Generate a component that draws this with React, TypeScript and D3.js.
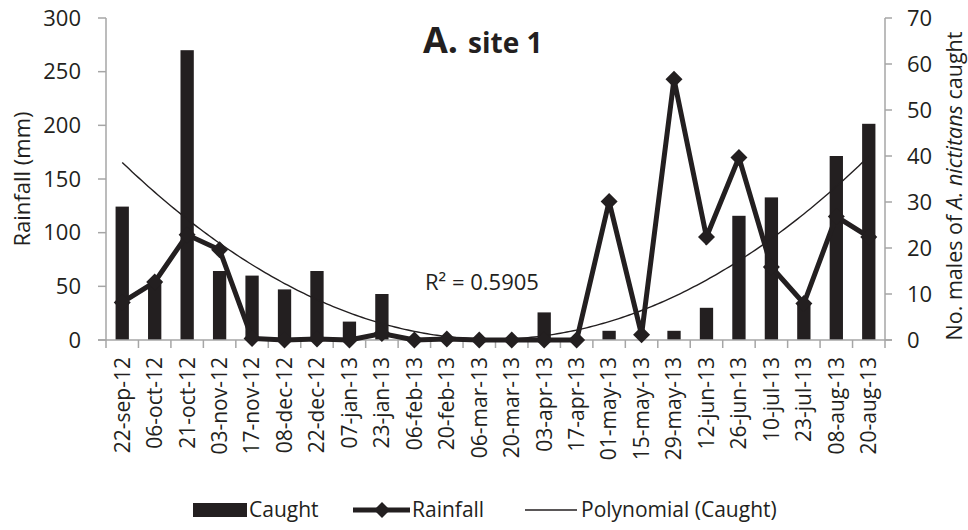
import React from "react";
import * as d3 from "d3";

const dates = [
  "22-sep-12", "06-oct-12", "21-oct-12", "03-nov-12", "17-nov-12", "08-dec-12",
  "22-dec-12", "07-jan-13", "23-jan-13", "06-feb-13", "20-feb-13", "06-mar-13",
  "20-mar-13", "03-apr-13", "17-apr-13", "01-may-13", "15-may-13", "29-may-13",
  "12-jun-13", "26-jun-13", "10-jul-13", "23-jul-13", "08-aug-13", "20-aug-13",
];
const caught = [29, 13, 63, 15, 14, 11, 15, 4, 10, 0, 0, 0, 0, 6, 0, 2, 0, 2, 7, 27, 31, 8, 40, 47];
const rainfall = [35, 54, 98, 84, 1.5, 0, 1, 0, 6, 0, 1, 0, 0, 0, 0, 129, 5, 243, 96, 170, 68, 34, 115, 96];
const leftTicks = [0, 50, 100, 150, 200, 250, 300];
const rightTicks = [0, 10, 20, 30, 40, 50, 60, 70];

const INK = "#231f20";
const AXIS = "#a6a6a6";
const FONT = "'Open Sans', Lato, sans-serif";

// least squares quadratic fit (Excel polynomial trendline order 2)
function quadFit(ys: number[]) {
  let s = [0, 0, 0, 0, 0];
  let t = [0, 0, 0];
  ys.forEach((y, i) => {
    const x = i + 1;
    for (let k = 0; k < 5; k++) s[k] += Math.pow(x, k);
    for (let k = 0; k < 3; k++) t[k] += y * Math.pow(x, k);
  });
  const A = [
    [s[0], s[1], s[2], t[0]],
    [s[1], s[2], s[3], t[1]],
    [s[2], s[3], s[4], t[2]],
  ];
  for (let i = 0; i < 3; i++) {
    let p = i;
    for (let r = i + 1; r < 3; r++) if (Math.abs(A[r][i]) > Math.abs(A[p][i])) p = r;
    [A[i], A[p]] = [A[p], A[i]];
    for (let r = 0; r < 3; r++) {
      if (r === i) continue;
      const f = A[r][i] / A[i][i];
      for (let c = i; c < 4; c++) A[r][c] -= f * A[i][c];
    }
  }
  const c0 = A[0][3] / A[0][0], c1 = A[1][3] / A[1][1], c2 = A[2][3] / A[2][2];
  return (x: number) => c0 + c1 * x + c2 * x * x;
}

export default function App() {
  const W = 968, H = 530;
  const left = 106, right = 885, top = 18, bottom = 340;
  const x = d3.scaleBand<string>().domain(dates).range([left, right]).padding(0);
  const step = x.step();
  const cx = (d: string) => (x(d) as number) + step / 2;
  const yL = d3.scaleLinear().domain([0, 300]).range([bottom, top]);
  const yR = d3.scaleLinear().domain([0, 70]).range([bottom, top]);
  const barW = step * 0.41;

  const fit = quadFit(caught);
  const trendPts: [number, number][] = d3.range(1, 24.001, 0.1).map((v) => {
    const px = left + step * (v - 0.5);
    return [px, yR(fit(v))];
  });
  const trendPath = d3.line().curve(d3.curveLinear)(trendPts) as string;
  const rainPath = d3
    .line<number>()
    .x((_, i) => cx(dates[i]))
    .y((v) => yL(v))(rainfall) as string;

  const diamond = (px: number, py: number, r: number) =>
    `M${px},${py - r}L${px + r},${py}L${px},${py + r}L${px - r},${py}Z`;

  return (
    <svg width={W} height={H} style={{ position: "absolute", left: 0, top: 0 }} fontFamily={FONT}>
      <rect width={W} height={H} fill="#fff" />
      {/* bars */}
      {caught.map((v, i) => (
        <rect key={i} x={cx(dates[i]) - barW / 2} y={yR(v)} width={barW} height={bottom - yR(v)} fill={INK} />
      ))}
      {/* axes */}
      <line x1={left} x2={left} y1={top} y2={bottom} stroke={AXIS} strokeWidth={1.5} />
      <line x1={right} x2={right} y1={top} y2={bottom} stroke={AXIS} strokeWidth={1.5} />
      <line x1={left - 8} x2={right + 7} y1={bottom} y2={bottom} stroke={AXIS} strokeWidth={1.5} />
      {leftTicks.map((t) => (
        <g key={"l" + t}>
          <line x1={left - 8} x2={left} y1={yL(t)} y2={yL(t)} stroke={AXIS} strokeWidth={1.5} />
          <text x={81} y={yL(t)} dy="0.35em" textAnchor="end" fontSize={22} fill={INK}>{t}</text>
        </g>
      ))}
      {rightTicks.map((t) => (
        <g key={"r" + t}>
          <line x1={right} x2={right + 7} y1={yR(t)} y2={yR(t)} stroke={AXIS} strokeWidth={1.5} />
          <text x={907} y={yR(t)} dy="0.35em" textAnchor="start" fontSize={22} fill={INK}>{t}</text>
        </g>
      ))}
      {d3.range(dates.length + 1).map((i) => (
        <line key={"xt" + i} x1={left + i * step} x2={left + i * step} y1={bottom} y2={bottom + 8} stroke={AXIS} strokeWidth={1.5} />
      ))}
      {dates.map((d) => (
        <text key={d} transform={`translate(${cx(d)},357) rotate(-90)`} dy="0.35em" textAnchor="end" fontSize={21} fill={INK}>
          {d}
        </text>
      ))}
      {/* trend line */}
      <path d={trendPath} fill="none" stroke={INK} strokeWidth={1.4} />
      {/* rainfall */}
      <path d={rainPath} fill="none" stroke={INK} strokeWidth={5} strokeLinejoin="miter" />
      {rainfall.map((v, i) => (
        <path key={"m" + i} d={diamond(cx(dates[i]), yL(v), 8.5)} fill={INK} />
      ))}
      {/* titles */}
      <text x={423} y={53} fill={INK} fontWeight="bold">
        <tspan fontSize={36}>A.</tspan>
        <tspan fontSize={28} dx={10}>site 1</tspan>
      </text>
      <text x={425} y={290} fontSize={22} fill={INK}>R² = 0.5905</text>
      <text transform="translate(22,179) rotate(-90)" dy="0.35em" textAnchor="middle" fontSize={22} fill={INK}>
        Rainfall (mm)
      </text>
      <text transform="translate(954,186) rotate(-90)" dy="0.35em" textAnchor="middle" fontSize={21.5} fill={INK}>
        No. males of <tspan fontStyle="italic">A. nictitans</tspan> caught
      </text>
      {/* legend */}
      <rect x={193} y={503} width={54} height={14} fill={INK} />
      <text x={249} y={510} dy="0.35em" fontSize={21} fill={INK}>Caught</text>
      <line x1={353} x2={410} y1={510} y2={510} stroke={INK} strokeWidth={5} />
      <path d={diamond(382, 510, 8)} fill={INK} />
      <text x={412} y={510} dy="0.35em" fontSize={21} fill={INK}>Rainfall</text>
      <line x1={525} x2={577} y1={510} y2={510} stroke={INK} strokeWidth={1.4} />
      <text x={581} y={510} dy="0.35em" fontSize={21} fill={INK}>Polynomial (Caught)</text>
    </svg>
  );
}
